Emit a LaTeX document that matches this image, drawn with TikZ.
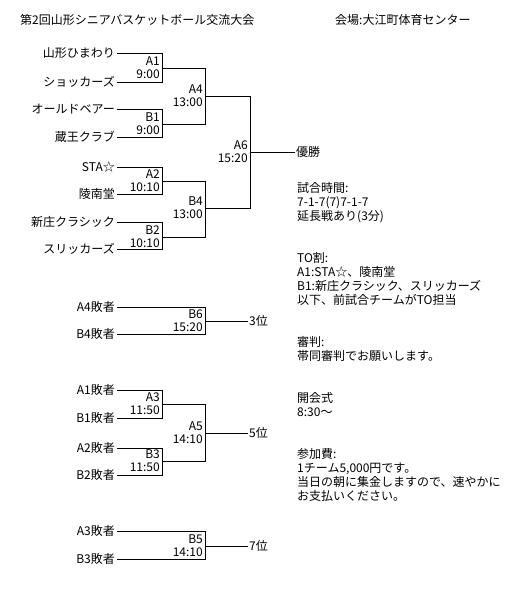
\documentclass[tikz,border=0pt]{standalone}
\usepackage{fontspec}
\setmainfont{Noto Sans CJK JP}
\usetikzlibrary{positioning}

\tikzset{
  team/.style={anchor=east, inner sep=2pt},
  gameno/.style={anchor=south east, inner sep=1pt},
  gametime/.style={anchor=north east, inner sep=1pt},
  result/.style={anchor=west, inner sep=1pt},
  wire/.style={line width=0.9pt}
}

\begin{document}
\begin{tikzpicture}[x=1pt,y=-1pt,font=\fontsize{12}{14}\selectfont]
\useasboundingbox (0,0) rectangle (510,590);

% heading
\node[anchor=west, inner sep=0pt] (title) at (20,20) {第2回山形シニアバスケットボール交流大会};
\node[anchor=west, inner sep=0pt] (venue) at (335,20) {会場:大江町体育センター};

% main bracket
\node[team] (t1) at (117,53) {山形ひまわり};
\node[team] (t2) at (117,82) {ショッカーズ};
\node[team] (t3) at (117,109) {オールドベアー};
\node[team] (t4) at (117,137) {蔵王クラブ};
\node[team] (t5) at (117,167) {STA☆};
\node[team] (t6) at (117,194) {陵南堂};
\node[team] (t7) at (117,222) {新庄クラシック};
\node[team] (t8) at (117,249) {スリッカーズ};

\coordinate (a1) at (162,68);
\coordinate (b1) at (162,124);
\coordinate (a2) at (162,181);
\coordinate (b2) at (162,237);
\coordinate (a4) at (205,96);
\coordinate (b4) at (205,208);
\coordinate (a6) at (250,152);

\draw[wire] (t1.east) -| (a1) (t2.east) -| (a1);
\draw[wire] (t3.east) -| (b1) (t4.east) -| (b1);
\draw[wire] (t5.east) -| (a2) (t6.east) -| (a2);
\draw[wire] (t7.east) -| (b2) (t8.east) -| (b2);
\draw[wire] (a1) -| (a4) (b1) -| (a4);
\draw[wire] (a2) -| (b4) (b2) -| (b4);
\draw[wire] (a4) -| (a6) (b4) -| (a6);

\node[result] (win) at (295,152) {優勝};
\draw[wire] (a6) -- (win);

\node[gameno, above left=1pt and 1pt of a1] (a1n) {A1};
\node[gametime, below left=1pt and 1pt of a1] (a1t) {9:00};
\node[gameno, above left=1pt and 1pt of b1] (b1n) {B1};
\node[gametime, below left=1pt and 1pt of b1] (b1t) {9:00};
\node[gameno, above left=1pt and 1pt of a2] (a2n) {A2};
\node[gametime, below left=1pt and 1pt of a2] (a2t) {10:10};
\node[gameno, above left=1pt and 1pt of b2] (b2n) {B2};
\node[gametime, below left=1pt and 1pt of b2] (b2t) {10:10};
\node[gameno, above left=1pt and 1pt of a4] (a4n) {A4};
\node[gametime, below left=1pt and 1pt of a4] (a4t) {13:00};
\node[gameno, above left=1pt and 1pt of b4] (b4n) {B4};
\node[gametime, below left=1pt and 1pt of b4] (b4t) {13:00};
\node[gameno, above left=1pt and 1pt of a6] (a6n) {A6};
\node[gametime, below left=1pt and 1pt of a6] (a6t) {15:20};

% 3rd place
\node[team] (l1) at (117,307) {A4敗者};
\node[team] (l2) at (117,334) {B4敗者};
\coordinate (b6) at (205,321);
\draw[wire] (l1.east) -| (b6) (l2.east) -| (b6);
\node[result] (third) at (248,321) {3位};
\draw[wire] (b6) -- (third);
\node[gameno, above left=1pt and 1pt of b6] (b6n) {B6};
\node[gametime, below left=1pt and 1pt of b6] (b6t) {15:20};

% 5th place
\node[team] (l3) at (117,390) {A1敗者};
\node[team] (l4) at (117,418) {B1敗者};
\node[team] (l5) at (117,448) {A2敗者};
\node[team] (l6) at (117,475) {B2敗者};
\coordinate (a3) at (162,404);
\coordinate (b3) at (162,461);
\coordinate (a5) at (205,433);
\draw[wire] (l3.east) -| (a3) (l4.east) -| (a3);
\draw[wire] (l5.east) -| (b3) (l6.east) -| (b3);
\draw[wire] (a3) -| (a5) (b3) -| (a5);
\node[result] (fifth) at (248,433) {5位};
\draw[wire] (a5) -- (fifth);
\node[gameno, above left=1pt and 1pt of a3] (a3n) {A3};
\node[gametime, below left=1pt and 1pt of a3] (a3t) {11:50};
\node[gameno, above left=1pt and 1pt of b3] (b3n) {B3};
\node[gametime, below left=1pt and 1pt of b3] (b3t) {11:50};
\node[gameno, above left=1pt and 1pt of a5] (a5n) {A5};
\node[gametime, below left=1pt and 1pt of a5] (a5t) {14:10};

% 7th place
\node[team] (l7) at (117,531) {A3敗者};
\node[team] (l8) at (117,559) {B3敗者};
\coordinate (b5) at (205,546);
\draw[wire] (l7.east) -| (b5) (l8.east) -| (b5);
\node[result] (seventh) at (248,546) {7位};
\draw[wire] (b5) -- (seventh);
\node[gameno, above left=1pt and 1pt of b5] (b5n) {B5};
\node[gametime, below left=1pt and 1pt of b5] (b5t) {14:10};

% notes
\node[anchor=north west, inner sep=0pt, align=left] (info) at (297,182) {%
試合時間:\\7-1-7(7)7-1-7\\延長戦あり(3分)\\[28pt]%
TO割:\\A1:STA☆、陵南堂\\B1:新庄クラシック、スリッカーズ\\以下、前試合チームがTO担当\\[28pt]%
審判:\\帯同審判でお願いします。\\[28pt]%
開会式\\8:30～\\[28pt]%
参加費:\\1チーム5,000円です。\\当日の朝に集金しますので、速やかに\\お支払いください。};
\end{tikzpicture}
\end{document}
